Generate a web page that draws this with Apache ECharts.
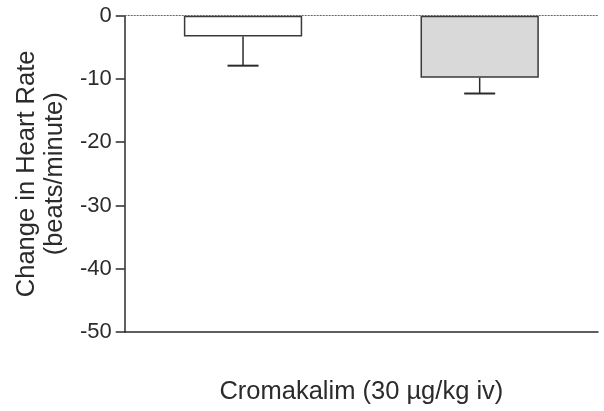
<!DOCTYPE html>
<html>
<head>
<meta charset="utf-8">
<script src="https://cdn.jsdelivr.net/npm/echarts@6/dist/echarts.min.js"></script>
<style>
  html, body { margin: 0; padding: 0; background: #fff; }
  #chart { width: 604px; height: 411px; }
</style>
</head>
<body>
<div id="chart"></div>
<script>
// Groups (unlabelled on the axis) and their mean change with one-sided SEM
const groups = ['1', '2'];
const meanChange = [-3.3, -9.8];
const semChange = [4.6, 2.5];
const barFills = ['#ffffff', '#d9d9d9'];
const yTicks = { min: -50, max: 0, interval: 10 };

const FONT = '"Liberation Sans", Arial, Helvetica, sans-serif';
const INK = '#2b2b2b';

const chart = echarts.init(document.getElementById('chart'), null, { renderer: 'canvas' });

chart.setOption({
  animation: false,
  grid: { left: 124.7, right: 6, top: 15.7, bottom: 79, containLabel: false },
  xAxis: {
    type: 'category',
    data: groups,
    position: 'bottom',
    boundaryGap: true,
    name: 'Cromakalim (30 \u00b5g/kg iv)',
    nameLocation: 'middle',
    nameGap: 47,
    nameTextStyle: { fontFamily: FONT, fontSize: 25.5, color: INK },
    axisLine: { onZero: false, lineStyle: { color: INK, width: 1.5 } },
    axisTick: { alignWithLabel: true, length: 10, lineStyle: { color: INK, width: 1.5 } },
    axisLabel: { show: false },
    splitLine: { show: false }
  },
  yAxis: {
    type: 'value',
    min: yTicks.min,
    max: yTicks.max,
    interval: yTicks.interval,
    name: 'Change in Heart Rate\n(beats/minute)',
    nameLocation: 'middle',
    nameGap: 54,
    nameTextStyle: { fontFamily: FONT, fontSize: 25.5, color: INK, lineHeight: 28 },
    axisLine: { show: true, lineStyle: { color: INK, width: 1.5 } },
    axisTick: { show: true, length: 9, lineStyle: { color: INK, width: 1.5 } },
    axisLabel: { fontFamily: FONT, fontSize: 22, color: INK, margin: 13 },
    splitLine: { show: false }
  },
  series: [
    {
      type: 'bar',
      barWidth: '50%',
      data: meanChange.map((v, i) => ({
        value: v,
        itemStyle: { color: barFills[i], borderColor: '#3a3a3a', borderWidth: 1.5 }
      })),
      markLine: {
        silent: true,
        symbol: 'none',
        label: { show: false },
        lineStyle: { color: '#666', width: 1, type: [2, 1] },
        data: [{ yAxis: 0 }]
      },
      z: 2
    },
    {
      type: 'custom',
      z: 3,
      data: meanChange.map((v, i) => [i, v, v - semChange[i]]),
      renderItem: function (params, api) {
        const x = api.value(0);
        const top = api.coord([x, api.value(1)]);
        const end = api.coord([x, api.value(2)]);
        const half = 15.5;
        return {
          type: 'group',
          children: [
            {
              type: 'line',
              shape: { x1: top[0], y1: top[1], x2: end[0], y2: end[1] },
              style: { stroke: INK, lineWidth: 1.5 }
            },
            {
              type: 'line',
              shape: { x1: end[0] - half, y1: end[1], x2: end[0] + half, y2: end[1] },
              style: { stroke: INK, lineWidth: 2 }
            }
          ]
        };
      }
    }
  ]
});
</script>
</body>
</html>
